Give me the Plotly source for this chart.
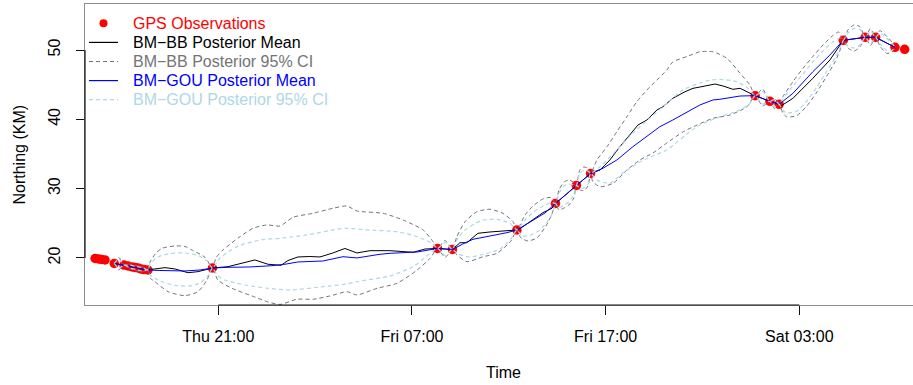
import pandas as pd
import plotly.graph_objects as go

# ---------------- data (hours since Thu 00:00, Northing in km) ----------------
BASE = pd.Timestamp("2020-01-02 00:00")  # a Thursday

obs_hours = [14.64, 14.82, 14.97, 15.15, 15.63, 16.13, 16.34, 16.55, 16.70, 16.86,
             17.01, 17.17, 17.37, 20.70, 32.32, 33.09, 36.42, 38.41, 39.49, 40.22,
             48.72, 49.48, 49.96, 53.27, 54.40, 54.94, 55.94, 56.44]
obs_km = [19.91, 19.84, 19.77, 19.70, 19.19, 18.97, 18.83, 18.69, 18.62, 18.54,
          18.40, 18.32, 18.25, 18.54, 21.36, 21.21, 24.03, 27.85, 30.45, 32.18,
          43.41, 42.60, 42.16, 51.40, 51.83, 51.83, 50.39, 50.10]

bb_mean = [(15.63, 19.19), (16.13, 18.97), (16.34, 18.83), (16.55, 18.69), (16.70, 18.62),
           (16.86, 18.54), (17.01, 18.40), (17.17, 18.32), (17.37, 18.25), (17.58, 18.35),
           (18.25, 18.59), (18.77, 18.40), (19.44, 17.86), (19.95, 18.01), (20.70, 18.54),
           (21.50, 18.73), (22.22, 19.26), (22.89, 19.70), (23.57, 19.08), (24.24, 18.93),
           (24.60, 19.62), (25.11, 20.13), (25.73, 20.20), (26.25, 20.13), (26.92, 20.71),
           (27.54, 21.36), (28.16, 20.71), (28.83, 21.04), (29.87, 21.04), (31.06, 20.81),
           (31.68, 21.28), (32.32, 21.36), (32.71, 21.28), (33.09, 21.21), (33.48, 22.19),
           (33.84, 22.19), (34.10, 22.83), (34.41, 23.55), (35.03, 23.74), (35.91, 23.93),
           (36.42, 24.03), (36.73, 24.50), (37.25, 25.57), (37.76, 26.52), (38.23, 27.16),
           (38.41, 27.85), (38.90, 29.01), (39.49, 30.45), (39.83, 31.31), (40.22, 32.18),
           (40.71, 32.68), (41.22, 34.13), (41.74, 36.05), (42.15, 37.49), (42.67, 39.18),
           (43.13, 39.90), (43.65, 41.34), (43.96, 41.82), (44.47, 43.03), (45.10, 43.98),
           (45.51, 44.47), (45.87, 44.66), (46.23, 44.81), (46.65, 45.09), (47.06, 44.81),
           (47.57, 44.33), (47.94, 44.47), (48.30, 43.98), (48.72, 43.41), (49.48, 42.60),
           (49.96, 42.16), (50.05, 41.92), (50.67, 43.03), (51.70, 45.92), (52.58, 48.56),
           (53.27, 51.40), (54.40, 51.83), (54.94, 51.83), (55.94, 50.39)]

bb_upper = [(15.63, 19.19), (15.87, 20.06), (16.13, 18.97), (16.44, 19.12), (16.75, 18.90),
            (17.06, 18.76), (17.37, 18.25), (17.48, 19.41), (17.79, 20.71), (18.10, 21.39),
            (18.77, 21.72), (19.28, 21.65), (19.64, 21.14), (20.31, 20.09), (20.70, 18.54),
            (20.88, 19.99), (21.24, 21.14), (22.12, 23.06), (22.79, 24.27), (23.51, 24.75),
            (24.19, 24.60), (24.86, 25.86), (25.89, 26.43), (26.92, 27.16), (27.64, 27.49),
            (28.16, 26.77), (29.51, 26.43), (30.54, 25.47), (31.58, 24.03), (32.09, 22.34),
            (32.32, 21.36), (32.71, 22.51), (33.09, 21.21), (33.32, 23.06), (33.74, 25.22),
            (34.36, 26.67), (35.03, 27.02), (35.70, 26.43), (36.22, 25.22), (36.42, 24.03),
            (36.84, 26.19), (37.25, 27.49), (37.76, 28.50), (38.17, 28.72), (38.41, 27.85),
            (38.59, 29.80), (38.85, 30.95), (39.10, 31.24), (39.36, 30.88), (39.49, 30.45),
            (39.67, 32.68), (39.88, 33.12), (40.09, 32.90), (40.22, 32.18), (40.55, 34.13),
            (41.07, 36.05), (41.58, 38.21), (42.10, 40.38), (42.61, 42.54), (43.13, 44.23),
            (43.65, 45.67), (44.16, 47.11), (44.47, 48.27), (45.20, 49.06), (45.87, 49.75),
            (46.54, 49.75), (47.26, 48.80), (47.94, 46.64), (48.45, 44.95), (48.72, 43.41),
            (49.10, 44.37), (49.48, 42.60), (49.72, 43.07), (49.96, 42.16), (50.15, 43.26),
            (50.67, 45.42), (51.19, 47.36), (51.70, 49.06), (52.22, 50.72), (52.73, 52.09),
            (53.04, 52.60), (53.27, 51.40), (53.51, 52.89), (53.82, 53.61), (54.13, 53.39),
            (54.40, 51.83), (54.67, 53.10), (54.94, 51.83), (55.16, 52.81), (55.52, 51.95),
            (55.78, 51.16), (55.94, 50.39)]

bb_lower = [(15.63, 19.19), (15.87, 18.25), (16.13, 18.97), (16.44, 18.40), (16.75, 18.18),
            (17.06, 17.96), (17.37, 18.25), (17.48, 17.10), (17.73, 16.57), (18.41, 15.12),
            (19.28, 14.55), (19.95, 15.12), (20.42, 16.81), (20.70, 18.54), (20.98, 16.81),
            (21.71, 15.61), (22.74, 14.50), (23.57, 13.64), (24.19, 13.28), (25.06, 14.03),
            (25.89, 14.03), (26.77, 14.50), (27.64, 15.12), (28.16, 14.65), (29.20, 15.61),
            (30.23, 16.33), (31.27, 18.25), (31.94, 19.94), (32.32, 21.36), (32.71, 20.06),
            (33.09, 21.21), (33.32, 20.42), (33.84, 19.45), (34.67, 20.17), (35.39, 20.66),
            (36.11, 22.44), (36.42, 24.03), (36.63, 22.87), (36.99, 22.44), (37.45, 22.87),
            (37.92, 24.60), (38.23, 26.33), (38.41, 27.85), (38.59, 26.91), (38.85, 27.20),
            (39.10, 27.63), (39.36, 28.64), (39.49, 30.45), (39.67, 29.80), (39.88, 29.73),
            (40.09, 30.37), (40.22, 32.18), (40.34, 31.00), (40.71, 30.27), (41.38, 30.76),
            (42.10, 32.68), (42.77, 34.13), (43.44, 35.14), (44.16, 36.58), (44.99, 38.17),
            (45.72, 39.18), (46.54, 40.14), (47.42, 40.62), (48.30, 41.82), (48.72, 43.41),
            (49.10, 41.92), (49.48, 42.60), (49.72, 41.56), (49.96, 42.16), (50.15, 40.91),
            (50.36, 40.33), (50.88, 40.55), (51.39, 41.92), (51.91, 43.94), (52.42, 46.25),
            (52.84, 48.27), (53.15, 50.29), (53.27, 51.40), (53.51, 50.29), (53.82, 49.86),
            (54.13, 50.43), (54.40, 51.83), (54.67, 50.65), (54.94, 51.83), (55.16, 50.58),
            (55.52, 49.50), (55.78, 49.71), (55.94, 50.39)]

gou_mean = [(15.63, 19.19), (16.13, 18.97), (16.34, 18.83), (16.55, 18.69), (16.70, 18.62),
            (16.86, 18.54), (17.01, 18.40), (17.17, 18.32), (17.37, 18.25), (17.99, 18.18),
            (19.28, 18.11), (20.06, 18.25), (20.70, 18.54), (21.50, 18.64), (22.63, 18.69),
            (23.77, 18.87), (24.44, 19.08), (25.11, 19.41), (26.40, 19.55), (27.44, 20.17),
            (28.16, 19.99), (29.35, 20.52), (29.87, 20.66), (31.27, 20.85), (32.32, 21.36),
            (32.71, 21.28), (33.09, 21.21), (33.63, 22.01), (34.15, 22.68), (35.03, 23.16),
            (35.91, 23.64), (36.42, 24.03), (37.35, 25.54), (37.87, 26.48), (38.41, 27.85),
            (38.90, 29.08), (39.49, 30.45), (39.83, 31.24), (40.22, 32.18), (40.86, 32.93),
            (41.58, 34.13), (42.41, 36.05), (43.13, 37.49), (43.80, 38.93), (44.47, 39.90),
            (45.20, 41.05), (45.87, 42.07), (46.54, 42.79), (46.90, 42.89), (47.94, 43.36),
            (48.72, 43.41), (49.48, 42.60), (49.96, 42.16), (50.67, 43.75), (51.70, 46.87),
            (52.58, 49.28), (53.27, 51.40), (54.40, 51.83), (54.94, 51.83), (55.94, 50.39)]

gou_upper = [(15.63, 19.19), (15.87, 19.84), (16.13, 18.97), (16.44, 18.97), (16.75, 18.76),
             (17.06, 18.62), (17.37, 18.25), (17.48, 19.12), (17.89, 20.13), (18.51, 20.63),
             (19.28, 20.71), (19.95, 20.35), (20.42, 19.55), (20.70, 18.54), (21.09, 19.99),
             (21.97, 21.62), (23.15, 22.59), (24.19, 22.83), (25.58, 23.31), (27.13, 24.13),
             (27.64, 24.27), (28.68, 24.03), (30.23, 23.78), (31.27, 23.06), (32.04, 22.11),
             (32.32, 21.36), (32.71, 22.22), (33.09, 21.21), (33.32, 22.59), (33.63, 23.78),
             (34.25, 24.96), (34.67, 25.47), (35.39, 25.57), (36.06, 24.99), (36.42, 24.03),
             (36.84, 25.47), (37.35, 26.77), (37.87, 27.63), (38.23, 27.99), (38.41, 27.85),
             (38.59, 29.37), (38.85, 30.37), (39.10, 30.66), (39.36, 30.52), (39.49, 30.45),
             (39.67, 32.25), (39.88, 32.61), (40.09, 32.54), (40.22, 32.18), (40.71, 33.16),
             (41.58, 35.57), (42.41, 38.02), (43.29, 40.19), (44.16, 42.31), (44.99, 44.23),
             (45.87, 45.24), (46.23, 45.57), (46.90, 45.77), (47.78, 45.42), (48.35, 44.47),
             (48.72, 43.41), (49.10, 44.01), (49.48, 42.60), (49.72, 42.86), (49.96, 42.16),
             (50.15, 42.93), (50.67, 44.81), (51.19, 46.54), (51.70, 48.27), (52.22, 49.86),
             (52.73, 51.16), (53.09, 51.73), (53.27, 51.40), (53.51, 52.45), (53.82, 53.10),
             (54.13, 52.96), (54.40, 51.83), (54.67, 52.74), (54.94, 51.83), (55.16, 52.45),
             (55.52, 51.66), (55.78, 51.01), (55.94, 50.39)]

gou_lower = [(15.63, 19.19), (15.87, 18.47), (16.13, 18.97), (16.44, 18.54), (16.75, 18.32),
             (17.06, 18.11), (17.37, 18.25), (17.48, 17.53), (17.99, 16.67), (18.77, 16.02),
             (19.54, 15.95), (20.06, 16.38), (20.47, 17.39), (20.70, 18.54), (20.98, 17.39),
             (21.34, 16.81), (22.38, 16.09), (23.57, 15.61), (24.70, 15.37), (26.40, 15.84),
             (27.64, 16.23), (28.16, 16.57), (29.87, 17.39), (31.06, 18.73), (31.94, 20.66),
             (32.32, 21.36), (32.71, 20.35), (33.09, 21.21), (33.38, 20.56), (33.99, 20.13),
             (34.77, 20.56), (35.54, 21.28), (36.11, 22.73), (36.42, 24.03), (36.68, 23.16),
             (37.09, 23.23), (37.61, 24.03), (38.02, 25.32), (38.28, 26.62), (38.41, 27.85),
             (38.59, 27.20), (38.85, 27.63), (39.10, 28.07), (39.36, 29.22), (39.49, 30.45),
             (39.67, 30.09), (39.88, 30.09), (40.09, 30.66), (40.22, 32.18), (40.55, 31.24),
             (41.22, 30.76), (41.89, 32.25), (42.77, 33.84), (43.44, 34.70), (44.16, 35.57),
             (45.20, 37.88), (45.87, 39.18), (46.90, 40.38), (47.94, 41.34), (48.45, 42.31),
             (48.72, 43.41), (49.10, 42.21), (49.48, 42.60), (49.72, 41.78), (49.96, 42.16),
             (50.15, 41.27), (50.36, 40.91), (50.88, 41.20), (51.39, 42.64), (51.91, 44.66),
             (52.42, 46.97), (52.84, 48.85), (53.15, 50.58), (53.27, 51.40), (53.51, 50.58),
             (53.82, 50.29), (54.13, 50.72), (54.40, 51.83), (54.67, 50.94), (54.94, 51.83),
             (55.16, 50.87), (55.52, 49.93), (55.78, 49.93), (55.94, 50.39)]

tick_hours = [21, 31, 41, 51]
tick_labels = ["Thu 21:00", "Fri 07:00", "Fri 17:00", "Sat 03:00"]
y_ticks = [20, 30, 40, 50]
x_range_hours = [14.12, 56.87]
y_range = [13.20, 56.64]

legend_names = ["GPS Observations", "BM\u2212BB Posterior Mean", "BM\u2212BB Posterior 95% CI",
                "BM\u2212GOU Posterior Mean", "BM\u2212GOU Posterior 95% CI"]

# ---------------- styling ----------------
RED, BLACK, GRAY, BLUE, LBLUE = "#ff0000", "#000000", "#747474", "#0000ff", "#add8e6"
DASH = "4px,3px"
FONT = "Liberation Sans, Arial, Helvetica, sans-serif"
FS = 16
W, H = 913, 385
PL, PR, PT, PB = 85, 913, 4, 305  # plot area in px


def to_time(hours):
    return BASE + pd.to_timedelta(list(hours), unit="h")


def xy(pairs):
    hs, ks = zip(*pairs)
    return to_time(hs), list(ks)


fig = go.Figure()
fig.add_trace(go.Scatter(x=to_time(obs_hours), y=obs_km, mode="markers",
                         marker=dict(color=RED, size=9.5, line=dict(width=0)),
                         name=legend_names[0]))

series = [
    (bb_mean, BLACK, "solid", 1.0, "linear", legend_names[1]),
    (bb_upper, GRAY, DASH, 1.0, "spline", legend_names[2]),
    (bb_lower, GRAY, DASH, 1.0, "spline", legend_names[2]),
    (gou_mean, BLUE, "solid", 1.0, "linear", legend_names[3]),
    (gou_upper, LBLUE, DASH, 1.2, "spline", legend_names[4]),
    (gou_lower, LBLUE, DASH, 1.2, "spline", legend_names[4]),
]
for pairs, col, dash, wid, shape, name in series:
    x, y = xy(pairs)
    fig.add_trace(go.Scatter(x=x, y=y, mode="lines", name=name,
                             line=dict(color=col, dash=dash, width=wid, shape=shape,
                                       smoothing=0.6 if shape == "spline" else None)))

tick_times = to_time(tick_hours)


def pxx(x):
    return (x - PL) / (PR - PL)


def pxy(y):
    return (PB - y) / (PB - PT)


shapes = [
    # R axis() segments between first and last ticks (drawn darker than the box)
    dict(type="line", xref="x", yref="paper", x0=tick_times[0], x1=tick_times[-1], y0=0, y1=0,
         line=dict(color="#111111", width=1.2)),
    dict(type="line", xref="paper", yref="y", x0=0, x1=0, y0=y_ticks[0], y1=y_ticks[-1],
         line=dict(color="#111111", width=1.2)),
]

# custom legend (no box), as in R's legend(bty="n")
row0, row_step = 23.3, 19.1
leg_styles = [("marker", RED, None), ("line", BLACK, "solid"), ("line", GRAY, DASH),
              ("line", BLUE, "solid"), ("line", LBLUE, DASH)]
annotations = []
for i, (name, (kind, col, dash)) in enumerate(zip(legend_names, leg_styles)):
    yy = pxy(row0 + i * row_step)
    if kind == "marker":
        shapes.append(dict(type="circle", xref="paper", yref="paper", xsizemode="pixel",
                           ysizemode="pixel", xanchor=pxx(103.5), yanchor=yy,
                           x0=-4, x1=4, y0=-4, y1=4,
                           fillcolor=col, line=dict(width=0)))
    else:
        shapes.append(dict(type="line", xref="paper", yref="paper", x0=pxx(89), x1=pxx(118),
                           y0=yy, y1=yy, line=dict(color=col, dash=dash, width=1.2)))
    annotations.append(dict(xref="paper", yref="paper", x=pxx(131), y=yy, text=name,
                            showarrow=False, xanchor="left", yanchor="middle",
                            font=dict(color=col, size=FS, family=FONT)))

annotations.append(dict(xref="paper", yref="paper", x=pxx(503), y=pxy(372), text="Time",
                        showarrow=False, xanchor="center", yanchor="middle",
                        font=dict(color="#000000", size=FS, family=FONT)))
annotations.append(dict(xref="paper", yref="paper", x=pxx(19), y=pxy(154.5),
                        text="Northing (KM)", textangle=-90, showarrow=False,
                        xanchor="center", yanchor="middle",
                        font=dict(color="#000000", size=FS, family=FONT)))

fig.update_layout(
    width=W, height=H, autosize=False,
    margin=dict(l=PL, r=W - PR, t=PT, b=H - PB, pad=0),
    paper_bgcolor="white", plot_bgcolor="white",
    showlegend=False,
    font=dict(family=FONT, size=FS, color="#000000"),
    shapes=shapes, annotations=annotations,
)
fig.update_xaxes(
    range=list(to_time(x_range_hours)), tickvals=tick_times, ticktext=tick_labels,
    showgrid=False, zeroline=False, showline=True, linecolor="#8c8c8c", linewidth=1,
    mirror=True, ticks="outside", ticklen=9, tickwidth=1, tickcolor="#111111",
    ticklabelstandoff=8, tickfont=dict(size=FS, family=FONT, color="#000000"),
)
fig.update_yaxes(
    range=y_range, tickvals=y_ticks, ticktext=[str(v) for v in y_ticks],
    showgrid=False, zeroline=False, showline=True, linecolor="#8c8c8c", linewidth=1,
    mirror=False, ticks="outside", ticklen=8, tickwidth=1, tickcolor="#111111",
    tickangle=-90, ticklabelstandoff=10, tickfont=dict(size=FS, family=FONT, color="#000000"),
)

fig.write_html("out.html")
